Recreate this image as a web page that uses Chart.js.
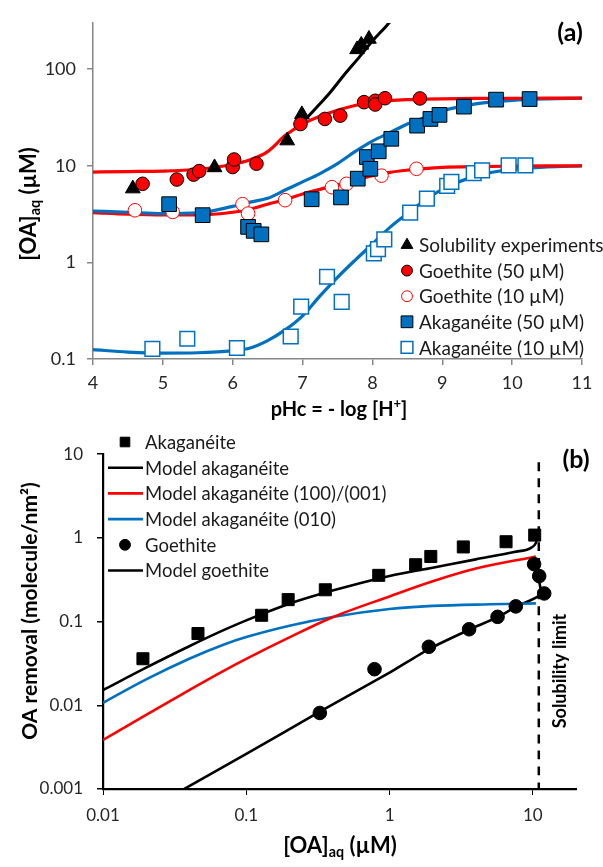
<!DOCTYPE html>
<html>
<head>
<meta charset="utf-8">
<script src="https://cdn.jsdelivr.net/npm/chart.js@4.4.1/dist/chart.umd.min.js"></script>
<style>
html, body { margin: 0; padding: 0; background: #fff; }
#wrap { position: relative; width: 603px; height: 867px; }
#topBox { position: absolute; left: 0; top: 0; width: 603px; height: 430px; }
#botBox { position: absolute; left: 0; top: 430px; width: 603px; height: 437px; }
</style>
</head>
<body>
<div id="wrap">
  <div id="topBox"><canvas id="chartA" width="603" height="430"></canvas></div>
  <div id="botBox"><canvas id="chartB" width="603" height="437"></canvas></div>
</div>
<script>
// ---- panel (a) data: pHc vs [OA]aq (uM) ----
const topXTicks = [4, 5, 6, 7, 8, 9, 10, 11]
const topYTicks = [0.1, 1, 10, 100]

const solPH = [4.57, 5.74, 6.78, 6.99, 7.78, 7.84, 7.95]
const solOA = [5.8, 9.6, 18.2, 34, 160, 178, 205]

const gt50PH = [4.71, 5.2, 5.44, 5.52, 6.0, 6.02, 6.34, 6.97, 7.32, 7.54, 7.88, 8.04, 8.04, 8.18, 8.68]
const gt50OA = [6.5, 7.2, 8.1, 8.8, 9.7, 11.6, 10.5, 27, 30.5, 33, 45.5, 47, 43, 50, 49.7]

const gt10PH = [4.6, 5.14, 6.14, 6.22, 6.75, 7.42, 7.63, 8.13, 8.63]
const gt10OA = [3.46, 3.33, 4.0, 3.2, 4.4, 6.0, 6.5, 7.9, 9.3]

const ak50PH = [5.09, 5.57, 6.22, 6.3, 6.41, 7.13, 7.55, 7.79, 7.92, 7.97, 8.09, 8.27, 8.64, 8.83, 8.96, 9.31, 9.77, 10.25]
const ak50OA = [4.0, 3.08, 2.33, 2.12, 1.95, 4.5, 4.7, 7.35, 12.3, 9.3, 14.1, 19, 26, 30.5, 33.6, 40.9, 48.3, 49]

const ak10PH = [4.85, 5.35, 6.06, 6.83, 6.98, 7.35, 7.56, 8.02, 8.08, 8.17, 8.54, 8.78, 9.07, 9.13, 9.45, 9.57, 9.95, 10.19]
const ak10OA = [0.127, 0.162, 0.13, 0.171, 0.348, 0.71, 0.39, 1.24, 1.37, 1.73, 3.27, 4.57, 6.2, 6.8, 8.4, 8.95, 10.1, 10.1]

// model curves (a)
const fitPH = [4, 4.5, 5, 5.5, 6, 6.25, 6.5, 6.75, 7, 7.25, 7.5, 7.75, 8, 8.25, 8.5, 8.75, 9, 9.5, 10, 10.5, 11]
const fitGt50 = [8.6, 8.7, 8.8, 9.2, 10.3, 11.5, 14, 20.5, 27, 32.5, 37.5, 42, 45.5, 47.3, 48.3, 48.9, 49.3, 49.7, 49.9, 50, 50]
const fitGt10 = [3.27, 3.15, 3.1, 3.1, 3.3, 3.55, 4.0, 4.45, 5.1, 5.7, 6.3, 7.1, 7.9, 8.55, 9.0, 9.35, 9.6, 9.8, 9.9, 9.97, 10]
const fitAk50 = [3.4, 3.3, 3.2, 3.25, 3.8, 4.2, 4.6, 5.6, 6.8, 8.3, 10.5, 14, 18, 22, 27, 31.5, 37, 44, 47.5, 49.2, 50]
const fitAk10 = [0.125, 0.118, 0.115, 0.116, 0.122, 0.13, 0.155, 0.2, 0.28, 0.45, 0.7, 1.05, 1.55, 2.3, 3.2, 4.4, 5.7, 7.9, 9.2, 9.7, 9.95]
const solFitPH = [6.98, 7.2, 7.4, 7.6, 7.8, 8.0, 8.2, 8.3]
const solFitOA = [27, 40, 58, 88, 130, 195, 280, 340]

// ---- panel (b) data: [OA]aq vs OA removal ----
const botXTicks = [0.01, 0.1, 1, 10]
const botYTicks = [0.001, 0.01, 0.1, 1, 10]

const akagOA = [0.019, 0.046, 0.128, 0.196, 0.356, 0.84, 1.52, 1.94, 3.27, 6.5, 10.3]
const akagRem = [0.036, 0.072, 0.119, 0.183, 0.24, 0.357, 0.478, 0.6, 0.78, 0.9, 1.08]
const goetOA = [0.326, 0.785, 1.88, 3.59, 5.67, 7.6, 10.2, 11.07, 12]
const goetRem = [0.0081, 0.027, 0.05, 0.081, 0.114, 0.152, 0.486, 0.35, 0.217]

const modAkOA = [0.01, 0.02, 0.04, 0.07, 0.1, 0.2, 0.4, 1, 2, 4, 7.4, 9.7, 10.5, 10.8]
const modAkRem = [0.0152, 0.0282, 0.0508, 0.0795, 0.1035, 0.1635, 0.2345, 0.351, 0.441, 0.554, 0.68, 0.76, 0.87, 1.02]
const modRedOA = [0.01, 0.02, 0.04, 0.07, 0.1, 0.2, 0.4, 1, 2, 4, 10.5]
const modRedRem = [0.00385, 0.0077, 0.0152, 0.026, 0.0359, 0.0647, 0.1127, 0.2, 0.303, 0.43, 0.6]
const modBlueOA = [0.01, 0.02, 0.04, 0.07, 0.1, 0.2, 0.4, 1, 2, 5, 10.5]
const modBlueRem = [0.0107, 0.0204, 0.036, 0.0533, 0.0653, 0.0892, 0.1137, 0.1416, 0.154, 0.161, 0.165]
const modGoOA = [0.033, 0.1, 0.326, 1, 1.88, 3.59, 5.67, 7.6, 11.3, 11.0, 10.8]
const modGoRem = [0.0009, 0.00262, 0.0084, 0.0245, 0.047, 0.08, 0.113, 0.15, 0.21, 0.32, 0.45]
const solLimOA = [11, 11]
const solLimRem = [8, 0.001]

// helpers
function pts(xs, ys){
    return xs.map((x, i) => ({x: x, y: ys[i]}))
}
const FONT = 'Lato'
const RED = '#FF0000'
const BLUE = '#0070C0'
Chart.defaults.font.family = FONT
Chart.defaults.animation = false

function drawRich(ctx, parts, x, y, size, rot){
    ctx.save()
    ctx.translate(x, y)
    if(rot) ctx.rotate(rot)
    ctx.textBaseline = 'middle'
    ctx.fillStyle = '#000'
    let w = 0
    parts.forEach(p => {
        let s = (p.sub || p.sup) ? size * 0.65 : size
        ctx.font = 'bold ' + s + 'px ' + FONT
        p.w = ctx.measureText(p.t).width
        w += p.w
    })
    let cx = -w / 2
    ctx.textAlign = 'left'
    parts.forEach(p => {
        let s = (p.sub || p.sup) ? size * 0.65 : size
        ctx.font = 'bold ' + s + 'px ' + FONT
        let dy = p.sub ? size * 0.3 : (p.sup ? -size * 0.3 : 0)
        ctx.fillText(p.t, cx, dy)
        cx += p.w
    })
    ctx.restore()
}

// text labels + legend drawn on the canvas
const extrasPlugin = {
    id: 'extras',
    afterDraw(chart, args, opts){
        const ctx = chart.ctx
        ;(opts.texts || []).forEach(t => drawRich(ctx, t.parts, t.x, t.y, t.size, t.rot))
        const lg = opts.legend
        if(!lg) return
        ctx.save()
        lg.items.forEach((idx, i) => {
            const ds = chart.data.datasets[idx]
            const y = lg.y + i * lg.gap
            if(ds.pointRadius > 0){
                ctx.fillStyle = ds.backgroundColor
                ctx.strokeStyle = ds.borderColor
                ctx.lineWidth = ds.borderWidth
                Chart.helpers.drawPoint(ctx, {pointStyle: ds.pointStyle, rotation: 0, radius: ds.pointRadius * lg.scale, borderWidth: ds.borderWidth}, lg.markX, y)
            }else{
                ctx.strokeStyle = ds.borderColor
                ctx.lineWidth = ds.borderWidth
                ctx.setLineDash([])
                ctx.beginPath()
                ctx.moveTo(lg.lineX0, y)
                ctx.lineTo(lg.lineX1, y)
                ctx.stroke()
            }
            ctx.fillStyle = '#1a1a1a'
            ctx.font = lg.size + 'px ' + FONT
            ctx.textAlign = 'left'
            ctx.textBaseline = 'middle'
            ctx.fillText(ds.label, lg.textX, y + 1)
        })
        ctx.restore()
    }
}

function pointSet(label, xs, ys, style, r, fill, stroke, bw, order){
    return {label: label, data: pts(xs, ys), pointStyle: style, pointRadius: r, pointHoverRadius: r,
        backgroundColor: fill, borderColor: stroke, borderWidth: bw, showLine: false, order: order}
}
function lineSet(label, xs, ys, color, w, mono){
    return {label: label, data: pts(xs, ys), pointRadius: 0, borderColor: color, backgroundColor: color,
        borderWidth: w, showLine: true, fill: false, order: 20,
        cubicInterpolationMode: mono ? 'monotone' : 'default', tension: mono ? 0 : 0.2}
}
function decadeLabel(v){
    return String(v)
}

// ---- chart (a) ----
const axisGrey = '#868686'
new Chart(document.getElementById('chartA'), {
    type: 'scatter',
    data: {
        datasets: [
            pointSet('Solubility experiments', solPH, solOA, 'triangle', 8.5, '#000', '#000', 1, 5),
            pointSet('Goethite (50 \u00B5M)', gt50PH, gt50OA, 'circle', 6.8, RED, '#000', 1, 4),
            pointSet('Goethite (10 \u00B5M)', gt10PH, gt10OA, 'circle', 6.8, '#fff', RED, 1, 3),
            pointSet('Akagan\u00E9ite (50 \u00B5M)', ak50PH, ak50OA, 'rect', 10.4, BLUE, '#000', 1, 2),
            pointSet('Akagan\u00E9ite (10 \u00B5M)', ak10PH, ak10OA, 'rect', 10.4, '#fff', BLUE, 1.5, 1),
            lineSet('fit gt50', fitPH, fitGt50, RED, 3.2, true),
            lineSet('fit ak50', fitPH, fitAk50, BLUE, 3.2, true),
            lineSet('fit gt10', fitPH, fitGt10, RED, 3.2, true),
            lineSet('fit ak10', fitPH, fitAk10, BLUE, 3.2, true),
            lineSet('solubility', solFitPH, solFitOA, '#000', 3, true)
        ]
    },
    options: {
        responsive: false,
        layout: {padding: {left: 0, right: 21, top: 23, bottom: 0}},
        plugins: {
            legend: {display: false},
            tooltip: {enabled: false},
            extras: {
                texts: [
                    {parts: [{t: '(a)'}], x: 570, y: 33, size: 25},
                    {parts: [{t: 'pHc = - log [H'}, {t: '+', sup: true}, {t: ']'}], x: 339, y: 410, size: 20},
                    {parts: [{t: '[OA]'}, {t: 'aq', sub: true}, {t: ' (\u00B5M)'}], x: 29, y: 204, size: 22, rot: -Math.PI / 2}
                ],
                legend: {items: [0, 1, 2, 3, 4], y: 245, gap: 25.6, markX: 407, textX: 419, size: 19, scale: 0.8}
            }
        },
        scales: {
            x: {
                type: 'linear', min: 4, max: 11,
                afterBuildTicks: s => { s.ticks = topXTicks.map(v => ({value: v})) },
                afterFit: s => { s.height = 71 },
                ticks: {font: {size: 18}, color: '#262626', padding: 7, maxRotation: 0, autoSkip: false},
                grid: {drawOnChartArea: false, tickLength: 6, color: axisGrey, lineWidth: 1.5},
                border: {color: axisGrey, width: 1.5}
            },
            y: {
                type: 'logarithmic', min: 0.1, max: 300,
                afterBuildTicks: s => { s.ticks = topYTicks.map(v => ({value: v})) },
                afterFit: s => { s.width = 93 },
                ticks: {font: {size: 18}, color: '#262626', padding: 11, autoSkip: false, callback: decadeLabel},
                grid: {drawOnChartArea: false, tickLength: 6, color: axisGrey, lineWidth: 1.5},
                border: {color: axisGrey, width: 1.5}
            }
        }
    },
    plugins: [extrasPlugin]
})

// ---- chart (b) ----
const dashSet = lineSet('limit', solLimOA, solLimRem, '#000', 2.5, true)
dashSet.borderDash = [9, 7]
new Chart(document.getElementById('chartB'), {
    type: 'scatter',
    data: {
        datasets: [
            pointSet('Akagan\u00E9ite', akagOA, akagRem, 'rect', 8.5, '#000', '#000', 1, 2),
            lineSet('Model akagan\u00E9ite', modAkOA, modAkRem, '#000', 2.6, true),
            lineSet('Model akagan\u00E9ite (100)/(001)', modRedOA, modRedRem, RED, 2.6, true),
            lineSet('Model akagan\u00E9ite (010)', modBlueOA, modBlueRem, BLUE, 2.6, true),
            pointSet('Goethite', goetOA, goetRem, 'circle', 6.8, '#000', '#000', 1, 1),
            lineSet('Model goethite', modGoOA, modGoRem, '#000', 2.6, false),
            dashSet
        ]
    },
    options: {
        responsive: false,
        layout: {padding: {left: 0, right: 27, top: 12, bottom: 0}},
        plugins: {
            legend: {display: false},
            tooltip: {enabled: false},
            extras: {
                texts: [
                    {parts: [{t: '(b)'}], x: 576, y: 30, size: 25},
                    {parts: [{t: '[OA]'}, {t: 'aq', sub: true}, {t: ' (\u00B5M)'}], x: 340, y: 416, size: 22},
                    {parts: [{t: 'OA removal (molecule/nm\u00B2)'}], x: 30, y: 181, size: 21, rot: -Math.PI / 2},
                    {parts: [{t: 'Solubility limit'}], x: 560, y: 241, size: 18, rot: -Math.PI / 2}
                ],
                legend: {items: [0, 1, 2, 3, 4, 5], y: 12, gap: 25.7, markX: 125, lineX0: 108, lineX1: 143, textX: 145, size: 18.5, scale: 0.8}
            }
        },
        scales: {
            x: {
                type: 'logarithmic', min: 0.01, max: 20,
                afterBuildTicks: s => { s.ticks = botXTicks.map(v => ({value: v})) },
                afterFit: s => { s.height = 78 },
                ticks: {font: {size: 17}, color: '#262626', padding: 10, maxRotation: 0, autoSkip: false, callback: decadeLabel},
                grid: {drawOnChartArea: false, tickLength: 6, color: '#000', lineWidth: 1},
                border: {color: '#000', width: 2.2}
            },
            y: {
                type: 'logarithmic', min: 0.001, max: 10,
                afterBuildTicks: s => { s.ticks = botYTicks.map(v => ({value: v})) },
                afterFit: s => { s.width = 103 },
                ticks: {font: {size: 17}, color: '#262626', padding: 14, autoSkip: false, callback: decadeLabel},
                grid: {drawOnChartArea: false, tickLength: 6, color: '#000', lineWidth: 1.5},
                border: {color: '#000', width: 2.2}
            }
        }
    },
    plugins: [extrasPlugin]
})
</script>
</body>
</html>
